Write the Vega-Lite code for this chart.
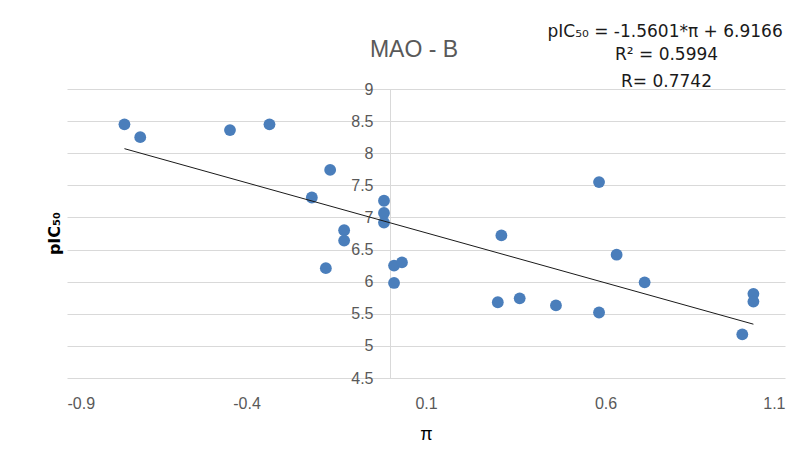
{
  "$schema": "https://vega.github.io/schema/vega-lite/v6.json",
  "width": 718,
  "height": 289,
  "autosize": "none",
  "padding": {"left": 67, "top": 89, "right": 27, "bottom": 87},
  "background": "white",
  "config": {
    "view": {"stroke": null},
    "font": "Liberation Sans"
  },
  "title": {
    "text": "MAO - B",
    "fontSize": 23,
    "fontWeight": "normal",
    "color": "#595959",
    "anchor": "middle",
    "frame": "group",
    "baseline": "alphabetic",
    "dx": -12,
    "offset": -57
  },
  "datasets": {
    "points": [
      {"pi": -0.74, "pIC50": 8.45},
      {"pi": -0.696, "pIC50": 8.25},
      {"pi": -0.446, "pIC50": 8.36},
      {"pi": -0.336, "pIC50": 8.45},
      {"pi": -0.167, "pIC50": 7.74},
      {"pi": -0.218, "pIC50": 7.31},
      {"pi": -0.017, "pIC50": 7.26},
      {"pi": -0.017, "pIC50": 7.07},
      {"pi": -0.017, "pIC50": 6.92},
      {"pi": -0.128, "pIC50": 6.8},
      {"pi": -0.128, "pIC50": 6.64},
      {"pi": -0.179, "pIC50": 6.21},
      {"pi": 0.011, "pIC50": 6.25},
      {"pi": 0.033, "pIC50": 6.3},
      {"pi": 0.011, "pIC50": 5.98},
      {"pi": 0.31, "pIC50": 6.72},
      {"pi": 0.582, "pIC50": 7.55},
      {"pi": 0.631, "pIC50": 6.42},
      {"pi": 0.709, "pIC50": 5.99},
      {"pi": 0.3, "pIC50": 5.68},
      {"pi": 0.361, "pIC50": 5.74},
      {"pi": 0.462, "pIC50": 5.63},
      {"pi": 0.582, "pIC50": 5.52},
      {"pi": 1.012, "pIC50": 5.81},
      {"pi": 1.012, "pIC50": 5.69},
      {"pi": 0.981, "pIC50": 5.18}
    ],
    "trend": [
      {"pi": -0.74, "pIC50": 8.071},
      {"pi": 1.012, "pIC50": 5.338}
    ],
    "notes": [
      {"pi": 0.766, "pIC50": 9.89, "label": "pIC₅₀ = -1.5601*π + 6.9166"},
      {"pi": 0.77, "pIC50": 9.53, "label": "R² = 0.5994"},
      {"pi": 0.77, "pIC50": 9.11, "label": "R= 0.7742"}
    ]
  },
  "encoding": {
    "x": {
      "field": "pi",
      "type": "quantitative",
      "scale": {"domain": [-0.9, 1.1], "nice": false, "zero": false},
      "axis": {
        "values": [-0.9, -0.4, 0.1, 0.6, 1.1],
        "format": ".1f",
        "labelExpr": "replace(datum.label, '−', '-')",
        "grid": false,
        "domain": false,
        "ticks": false,
        "labelPadding": 17,
        "labelFontSize": 16,
        "labelColor": "#595959",
        "title": "π",
        "titleFontSize": 18,
        "titleFontWeight": "normal",
        "titleColor": "#000000",
        "titlePadding": 14
      }
    },
    "y": {
      "field": "pIC50",
      "type": "quantitative",
      "scale": {"domain": [4.5, 9], "nice": false, "zero": false},
      "axis": {
        "values": [4.5, 5, 5.5, 6, 6.5, 7, 7.5, 8, 8.5, 9],
        "format": "~g",
        "offset": -323,
        "grid": true,
        "gridColor": "#d9d9d9",
        "gridWidth": 1,
        "domain": true,
        "domainColor": "#d9d9d9",
        "ticks": false,
        "labelPadding": 17,
        "labelFontSize": 16,
        "labelColor": "#595959",
        "title": "pIC₅₀",
        "titleFont": "DejaVu Sans",
        "titleFontSize": 16,
        "titleFontWeight": "bold",
        "titleColor": "#000000",
        "titleAngle": -90,
        "titleX": -336,
        "titleY": 144,
        "titleAlign": "center",
        "titleBaseline": "middle"
      }
    }
  },
  "layer": [
    {
      "data": {"name": "points"},
      "mark": {"type": "circle", "size": 140, "opacity": 1, "color": "#4a7ebb"}
    },
    {
      "data": {"name": "trend"},
      "mark": {"type": "line", "color": "#1a1a1a", "strokeWidth": 1}
    },
    {
      "data": {"name": "notes"},
      "mark": {"type": "text", "font": "DejaVu Sans", "fontSize": 17, "color": "#1a1a1a", "align": "center", "baseline": "middle", "clip": false},
      "encoding": {"text": {"field": "label"}}
    }
  ]
}
